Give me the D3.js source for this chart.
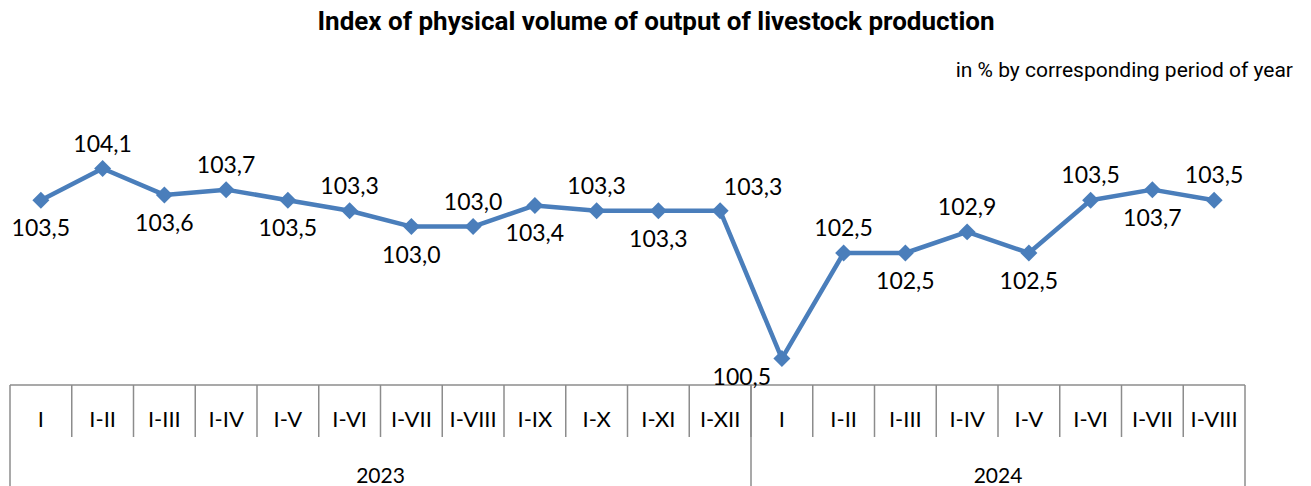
<!DOCTYPE html>
<html>
<head>
<meta charset="utf-8">
<script src="https://cdn.jsdelivr.net/npm/d3@7"></script>
<style>
  body { margin: 0; background: #fff; }
  svg { display: block; }
</style>
</head>
<body>
<svg id="chart"></svg>
<script>
'use strict'

var periods = ["I", "I-II", "I-III", "I-IV", "I-V", "I-VI", "I-VII", "I-VIII", "I-IX", "I-X", "I-XI", "I-XII",
	"I", "I-II", "I-III", "I-IV", "I-V", "I-VI", "I-VII", "I-VIII"];
var years = ["2023", "2024"];
var yearCounts = [12, 8];
var values = [103.5, 104.1, 103.6, 103.7, 103.5, 103.3, 103.0, 103.0, 103.4, 103.3, 103.3, 103.3,
	100.5, 102.5, 102.5, 102.9, 102.5, 103.5, 103.7, 103.5];
// where each value label sits relative to its marker
var labelPos = ["below", "above", "below", "above", "below", "above", "below", "above", "below", "above", "below", "right",
	"left", "above", "below", "above", "below", "above", "below", "above"];

var WIDTH = 1311,
	HEIGHT = 486;

var lineColor = "#4a7ebb",
	axisColor = "#8c8c8c";

var svg = d3.select("#chart")
	.attr("width", WIDTH)
	.attr("height", HEIGHT)
	.style("font-family", "Lato, 'Open Sans', sans-serif");

var keys = d3.range(periods.length);

var x = d3.scaleBand()
	.domain(keys)
	.range([10, 1245])
	.padding(0);

var y = d3.scaleLinear()
	.domain([100, 105])
	.range([385, 121]);

// title
svg.append("text")
	.attr("x", 656)
	.attr("y", 30)
	.attr("text-anchor", "middle")
	.style("font-family", "Roboto, sans-serif")
	.style("font-weight", "bold")
	.style("font-size", "26px")
	.style("fill", "#000")
	.text("Index of physical volume of output of livestock production");

svg.append("text")
	.attr("x", 1293)
	.attr("y", 77)
	.attr("text-anchor", "end")
	.style("font-family", "Roboto, sans-serif")
	.style("font-size", "21px")
	.style("fill", "#000")
	.text("in % by corresponding period of year");

// category axis (two levels)
var axisTop = y(100),
	monthBottom = 437,
	axisBottom = 500;

var ax = svg.append("g");

ax.append("line")
	.attr("x1", x.range()[0]).attr("x2", x.range()[1])
	.attr("y1", axisTop).attr("y2", axisTop)
	.style("stroke", axisColor).style("stroke-width", 1.5);

ax.selectAll(".tick-sep")
	.data(keys.slice(1))
	.enter().append("line")
	.attr("x1", function (d) { return x(d); })
	.attr("x2", function (d) { return x(d); })
	.attr("y1", axisTop)
	.attr("y2", monthBottom)
	.style("stroke", axisColor).style("stroke-width", 1.5);

var yearEdges = [0];
yearCounts.forEach(function (c, i) { yearEdges.push(yearEdges[i] + c); });

ax.selectAll(".year-sep")
	.data(yearEdges)
	.enter().append("line")
	.attr("x1", function (d) { return d < periods.length ? x(d) : x.range()[1]; })
	.attr("x2", function (d) { return d < periods.length ? x(d) : x.range()[1]; })
	.attr("y1", axisTop)
	.attr("y2", axisBottom)
	.style("stroke", axisColor).style("stroke-width", 1.5);

ax.selectAll(".period-label")
	.data(keys)
	.enter().append("text")
	.attr("x", function (d) { return x(d) + x.bandwidth() / 2; })
	.attr("y", 427)
	.attr("text-anchor", "middle")
	.style("font-size", "22px")
	.style("fill", "#000")
	.text(function (d) { return periods[d]; });

ax.selectAll(".year-label")
	.data(years)
	.enter().append("text")
	.attr("x", function (d, i) {
		var x0 = x(yearEdges[i]);
		var x1 = yearEdges[i + 1] < periods.length ? x(yearEdges[i + 1]) : x.range()[1];
		return (x0 + x1) / 2;
	})
	.attr("y", 483)
	.attr("text-anchor", "middle")
	.style("font-size", "21px")
	.style("fill", "#000")
	.text(function (d) { return d; });

// line
var line = d3.line()
	.x(function (d) { return x(d) + x.bandwidth() / 2; })
	.y(function (d) { return y(values[d]); });

svg.append("path")
	.datum(keys)
	.attr("d", line)
	.style("fill", "none")
	.style("stroke", lineColor)
	.style("stroke-width", 4.5)
	.style("stroke-linejoin", "round");

svg.selectAll(".marker")
	.data(keys)
	.enter().append("path")
	.attr("d", d3.symbol().type(d3.symbolSquare).size(144))
	.attr("transform", function (d) {
		return "translate(" + (x(d) + x.bandwidth() / 2) + "," + y(values[d]) + ") rotate(45)";
	})
	.style("fill", lineColor);

// value labels
function fmt(v) { return v.toFixed(1).replace(".", ","); }

svg.selectAll(".value-label")
	.data(keys)
	.enter().append("text")
	.attr("x", function (d) {
		var cx = x(d) + x.bandwidth() / 2;
		if (labelPos[d] == "right") return cx + 33;
		if (labelPos[d] == "left") return cx - 40;
		return cx;
	})
	.attr("y", function (d) {
		var cy = y(values[d]);
		if (labelPos[d] == "above") return cy - 17;
		if (labelPos[d] == "below") return cy + 36;
		if (labelPos[d] == "right") return cy - 16;
		return cy + 26;
	})
	.attr("text-anchor", "middle")
	.style("font-size", "23px")
	.style("fill", "#000")
	.text(function (d) { return fmt(values[d]); });
</script>
</body>
</html>
